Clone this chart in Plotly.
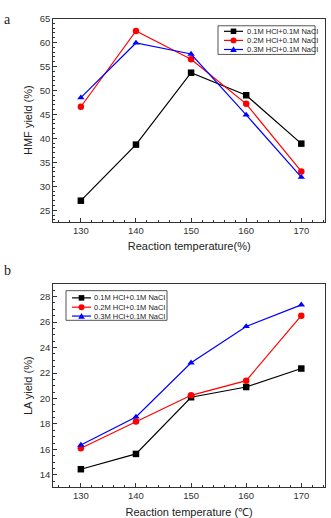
import plotly.graph_objects as go

temps = [130, 140, 150, 160, 170]
series_names = ["0.1M HCl+0.1M NaCl", "0.2M HCl+0.1M NaCl", "0.3M HCl+0.1M NaCl"]
colors = ["#000000", "#ff0000", "#0000ff"]
symbols = ["square", "circle", "triangle-up"]

hmf_01 = [27.0, 38.7, 53.7, 49.0, 38.9]
hmf_02 = [46.6, 62.4, 56.5, 47.2, 33.1]
hmf_03 = [48.5, 59.9, 57.6, 44.9, 31.9]

la_01 = [14.45, 15.65, 20.1, 20.9, 22.35]
la_02 = [16.1, 18.2, 20.25, 21.4, 26.5]
la_03 = [16.35, 18.55, 22.8, 25.65, 27.35]

W, H = 331, 518
fig = go.Figure()

for i, ys in enumerate([hmf_01, hmf_02, hmf_03]):
    fig.add_trace(go.Scatter(x=temps, y=ys, mode="lines+markers", name=series_names[i],
                             line=dict(color=colors[i], width=1.2),
                             marker=dict(symbol=symbols[i], size=6.5, color=colors[i]),
                             xaxis="x", yaxis="y", showlegend=False, cliponaxis=False))
for i, ys in enumerate([la_01, la_02, la_03]):
    fig.add_trace(go.Scatter(x=temps, y=ys, mode="lines+markers", name=series_names[i],
                             line=dict(color=colors[i], width=1.2),
                             marker=dict(symbol=symbols[i], size=6.5, color=colors[i]),
                             xaxis="x2", yaxis="y2", showlegend=False, cliponaxis=False))


def px(x):
    return x / W


def py(y):
    return 1 - y / H


xd = [px(53.3), px(325)]
ya = [py(218.3), py(12.7)]
yb = [py(486.7), py(281.7)]

axis_common = dict(showline=True, linecolor="#333333", linewidth=1, mirror=True,
                   ticks="inside", ticklen=4, tickcolor="#333333", showgrid=False,
                   zeroline=False, tickfont=dict(family="Arial, Liberation Sans", size=9.5, color="#333333"),
                   minor=dict(ticks="inside", ticklen=2, tickcolor="#333333"))

title_font = dict(family="Arial, Liberation Sans", size=11, color="#222222")

shapes = []
annotations = [
    dict(text="a", x=px(2), y=py(4), xref="paper", yref="paper", xanchor="left", yanchor="top",
         showarrow=False, font=dict(family="Liberation Serif, DejaVu Serif", size=14, color="#222222")),
    dict(text="b", x=px(2), y=py(258), xref="paper", yref="paper", xanchor="left", yanchor="top",
         showarrow=False, font=dict(family="Liberation Serif, DejaVu Serif", size=14, color="#222222")),
]


def add_legend(box, rows, line_x0, line_x1, text_x):
    x0, y0, x1, y1 = box
    shapes.append(dict(type="rect", xref="paper", yref="paper", x0=px(x0), x1=px(x1), y0=py(y1), y1=py(y0),
                       line=dict(color="#555555", width=1), fillcolor="white", layer="above"))
    mx = (line_x0 + line_x1) / 2
    for i, ry in enumerate(rows):
        c = colors[i]
        shapes.append(dict(type="line", xref="paper", yref="paper", x0=px(line_x0), x1=px(line_x1),
                           y0=py(ry), y1=py(ry), line=dict(color=c, width=1.2), layer="above"))
        s = 2.8
        if symbols[i] == "square":
            shapes.append(dict(type="rect", xref="paper", yref="paper", x0=px(mx - s), x1=px(mx + s),
                               y0=py(ry + s), y1=py(ry - s), fillcolor=c, line=dict(width=0), layer="above"))
        elif symbols[i] == "circle":
            shapes.append(dict(type="circle", xref="paper", yref="paper", x0=px(mx - 3), x1=px(mx + 3),
                               y0=py(ry + 3), y1=py(ry - 3), fillcolor=c, line=dict(width=0), layer="above"))
        else:
            path = "M {} {} L {} {} L {} {} Z".format(px(mx - 3.3), py(ry + 2.6), px(mx + 3.3), py(ry + 2.6),
                                                     px(mx), py(ry - 3.2))
            shapes.append(dict(type="path", xref="paper", yref="paper", path=path, fillcolor=c,
                               line=dict(width=0), layer="above"))
        annotations.append(dict(text=series_names[i], x=px(text_x), y=py(ry), xref="paper", yref="paper",
                                xanchor="left", yanchor="middle", showarrow=False,
                                font=dict(family="Arial, Liberation Sans", size=7.5, color="#222222")))


add_legend((218, 20, 315, 49), [25.6, 34.8, 44.0], 224, 243, 245)
add_legend((66, 288, 167, 318), [295.3, 304.7, 313.7], 72, 91, 92)

fig.update_layout(
    width=W, height=H, margin=dict(l=0, r=0, t=0, b=0),
    paper_bgcolor="white", plot_bgcolor="white", showlegend=False,
    xaxis=dict(domain=xd, anchor="y", range=[125, 174.3], tickvals=temps,
               title=dict(text="Reaction temperature(%)", font=title_font, standoff=7), **axis_common),
    yaxis=dict(domain=ya, anchor="x", range=[22.6, 65], dtick=5,
               title=dict(text="HMF yield (%)", font=title_font, standoff=4), **axis_common),
    xaxis2=dict(domain=xd, anchor="y2", range=[125, 174.3], tickvals=temps,
                title=dict(text="Reaction temperature (℃)", font=title_font, standoff=7), **axis_common),
    yaxis2=dict(domain=yb, anchor="x2", range=[13.05, 28.95], dtick=2,
                title=dict(text="LA yield (%)", font=title_font, standoff=4), **axis_common),
    shapes=shapes,
    annotations=annotations,
)

fig.write_html("out.html")
